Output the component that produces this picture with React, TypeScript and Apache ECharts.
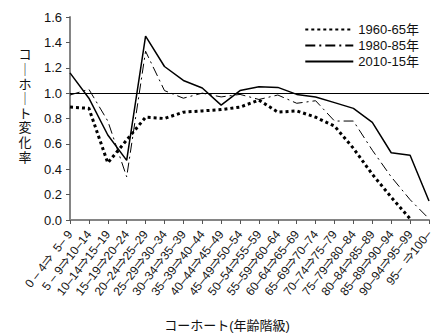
import React, { useEffect, useRef } from "react";
import * as echarts from "echarts";

const categories = [
  "0 – 4⇒  5– 9",
  "5 – 9⇒10–14",
  "10–14⇒15–19",
  "15–19⇒20–24",
  "20–24⇒25–29",
  "25–29⇒30–34",
  "30–34⇒35–39",
  "35–39⇒40–44",
  "40–44⇒45–49",
  "45–49⇒50–54",
  "50–54⇒55–59",
  "55–59⇒60–64",
  "60–64⇒65–69",
  "65–69⇒70–74",
  "70–74⇒75–79",
  "75–79⇒80–84",
  "80–84⇒85–89",
  "85–89⇒90–94",
  "90–94⇒95–99",
  "95–  ⇒100–",
];

const s1960 = [0.89, 0.88, 0.45, 0.63, 0.81, 0.8, 0.85, 0.86, 0.87, 0.89, 0.945, 0.85, 0.86, 0.81, 0.74, 0.565, 0.36, 0.18, 0.01, null];
const s1980 = [0.985, 1.03, 0.78, 0.34, 1.33, 1.02, 0.96, 1.0, 0.97, 0.99, 0.95, 0.985, 0.92, 0.94, 0.78, 0.78, 0.55, 0.34, 0.16, 0.01];
const s2010 = [1.16, 0.96, 0.67, 0.47, 1.45, 1.21, 1.1, 1.04, 0.905, 1.02, 1.05, 1.045, 0.99, 0.97, 0.925, 0.88, 0.77, 0.53, 0.51, 0.15];

const seriesNames = ["1960-65年", "1980-85年", "2010-15年"];
const yTicks = { min: 0, max: 1.6, interval: 0.2 };
const yName = "コ\n｜\nホ\n｜\nト\n変\n化\n率";
const xName = "コーホート(年齢階級)";

export default function App() {
  const ref = useRef<HTMLDivElement>(null);
  useEffect(() => {
    if (!ref.current) return;
    const chart = echarts.init(ref.current, null, { renderer: "svg" });
    const font = "Arial, 'Liberation Sans', 'Noto Sans CJK JP', sans-serif";
    chart.setOption({
      animation: false,
      textStyle: { fontFamily: font },
      grid: { left: 70, right: 9, top: 17, bottom: 114 },
      legend: {
        orient: "vertical",
        right: 14,
        top: 18,
        itemWidth: 48,
        itemHeight: 12,
        itemGap: 3,
        itemStyle: { opacity: 0 },
        textStyle: { fontSize: 13, color: "#111", fontFamily: font },
        data: seriesNames,
      },
      xAxis: {
        type: "category",
        data: categories,
        boundaryGap: false,
        axisLine: { lineStyle: { color: "#858585", width: 2 } },
        axisTick: { show: true, length: 4, alignWithLabel: true, lineStyle: { color: "#555", width: 1 } },
        axisLabel: { rotate: 52, interval: 0, fontSize: 12, color: "#111", margin: 12, fontFamily: font },
        splitLine: { show: false },
      },
      yAxis: {
        type: "value",
        min: yTicks.min,
        max: yTicks.max,
        interval: yTicks.interval,
        axisLine: { show: true, lineStyle: { color: "#858585", width: 2 } },
        axisTick: { show: true, length: 4, lineStyle: { color: "#555", width: 1 } },
        axisLabel: { fontSize: 13, color: "#111", margin: 8, formatter: (v: number) => v.toFixed(1), fontFamily: font },
        splitLine: { show: false },
      },
      graphic: [
        {
          type: "text",
          x: 25,
          y: 106,
          style: {
            text: yName,
            fontSize: 13,
            lineHeight: 14.6,
            align: "center",
            verticalAlign: "middle",
            fill: "#111",
            fontFamily: font,
          },
        },
        {
          type: "text",
          x: 227,
          y: 325,
          style: {
            text: xName,
            fontSize: 13,
            align: "center",
            verticalAlign: "middle",
            fill: "#111",
            fontFamily: font,
          },
        },
      ],
      series: [
        {
          name: seriesNames[0],
          type: "line",
          data: s1960,
          symbol: "none",
          lineStyle: { color: "#000", width: 3, type: [3, 3], cap: "butt" },
          itemStyle: { color: "#000" },
          markLine: {
            silent: true,
            symbol: "none",
            label: { show: false },
            lineStyle: { color: "#000", width: 1, type: "solid" },
            data: [{ yAxis: 1.0 }],
          },
        },
        {
          name: seriesNames[1],
          type: "line",
          data: s1980,
          symbol: "none",
          lineStyle: { color: "#000", width: 1, type: [10, 4, 2, 4] },
          itemStyle: { color: "#000" },
        },
        {
          name: seriesNames[2],
          type: "line",
          data: s2010,
          symbol: "none",
          lineStyle: { color: "#000", width: 1.5, type: "solid" },
          itemStyle: { color: "#000" },
        },
      ],
    });
    return () => chart.dispose();
  }, []);
  return <div ref={ref} style={{ width: 438, height: 334, position: "absolute", left: 0, top: 0 }} />;
}
